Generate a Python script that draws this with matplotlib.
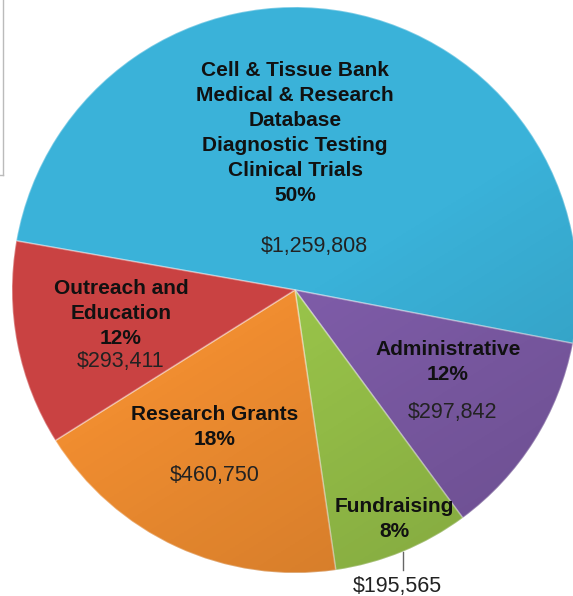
import numpy as np
import matplotlib.pyplot as plt
from matplotlib.patches import Circle

# budget breakdown, clockwise from the left edge
names = ['Cell & Tissue Bank\nMedical & Research\nDatabase\nDiagnostic Testing\nClinical Trials',
         'Administrative', 'Fundraising', 'Research Grants', 'Outreach and\nEducation']
amounts = [1259808, 297842, 195565, 460750, 293411]
value_labels = ['$1,259,808', '$297,842', '$195,565', '$460,750', '$293,411']
colors = ['#3AB2D9', '#7E5CA8', '#99C44A', '#F08D30', '#C94242']

# label spots (data units, radius 1)
name_pos = [(0.0, 0.555), (0.54, -0.255), (0.35, -0.81), (-0.283, -0.485), (-0.615, -0.082)]
value_pos = [(0.07, 0.152), (0.558, -0.434), (0.36, -1.046), (-0.283, -0.655), (-0.615, -0.253)]

fig = plt.figure(figsize=(5.73, 5.96), dpi=100)
ax = fig.add_axes([0, 0, 1, 1])

total = sum(amounts)
wedges, _ = ax.pie(amounts, colors=colors, startangle=170, counterclock=False,
                   radius=1.0, center=(0, 0),
                   wedgeprops=dict(edgecolor=(1, 1, 1, 0.35), linewidth=1.2))

# soft lighting from the upper left, clipped to the pie
yy, xx = np.mgrid[1:-1:200j, -1:1:200j]
shade = np.zeros((200, 200, 4))
t = (xx * 0.5 - yy * 0.8)
shade[..., 3] = np.clip(t, 0, None) * 0.12
img = ax.imshow(shade, extent=(-1, 1, -1, 1), zorder=3)
img.set_clip_path(Circle((0, 0), 1.0, transform=ax.transData))

for i, w in enumerate(wedges):
    pct = round(amounts[i] / total * 100)
    ax.text(name_pos[i][0], name_pos[i][1], f'{names[i]}\n{pct}%',
            ha='center', va='center', fontsize=15, fontweight='bold',
            family='Liberation Sans', color='#111111', linespacing=1.4, zorder=5)
    ax.text(value_pos[i][0], value_pos[i][1], value_labels[i],
            ha='center', va='center', fontsize=15.5, family='Liberation Sans',
            color='#222222', zorder=5)

# leader line for the small slice
ax.plot([0.383, 0.383], [-0.925, -0.99], color='#666666', lw=1, zorder=4)

ax.set_xlim(-295 / 283, (573 - 295) / 283)
ax.set_ylim(-(596 - 290) / 283, 290 / 283)
ax.set_aspect('auto')
ax.axis('off')

# bit of a frame peeking in at the top left
fig.add_artist(plt.Line2D([3 / 573, 3 / 573], [1, 1 - 175 / 596], color='#BBBBBB', lw=1))
fig.add_artist(plt.Line2D([0, 3 / 573], [1 - 175 / 596, 1 - 175 / 596], color='#BBBBBB', lw=1))

fig.savefig('out.png', dpi=100)
